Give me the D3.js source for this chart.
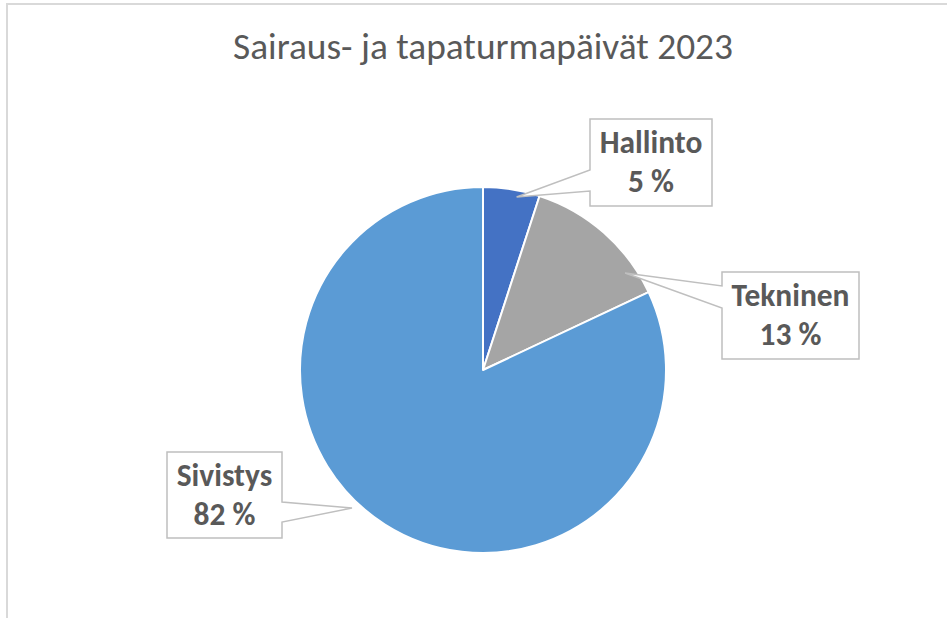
<!DOCTYPE html>
<html>
<head>
<meta charset="utf-8">
<script src="https://cdn.jsdelivr.net/npm/d3@7"></script>
<style>
  html, body { margin: 0; padding: 0; background: #fff; }
  svg { display: block; }
</style>
</head>
<body>
<svg id="chart" width="947" height="618"></svg>
<script>
const title = "Sairaus- ja tapaturmapäivät 2023";
const categories = ["Hallinto", "Tekninen", "Sivistys"];
const values = [5, 13, 82];
const colors = ["#4472C4", "#A5A5A5", "#5B9BD5"];

// callout boxes, placed by hand like Excel does
const callouts = {
  Hallinto: { x: 590, y: 119, w: 122, h: 87, side: "left", a0: 170, a1: 191, tipDeg: 11, tipR: 0.963 },
  Tekninen: { x: 722, y: 272, w: 137, h: 87, side: "left", a0: 286, a1: 308, tipDeg: 55.7, tipR: 0.94 },
  Sivistys: { x: 167, y: 452, w: 115, h: 86, side: "right", a0: 502, a1: 522, tipDeg: 223.5, tipR: 1.04 }
};

const cx = 483, cy = 370, R = 183;
const font = "Carlito, Calibri, 'Open Sans', sans-serif";

const svg = d3.select("#chart");

// pick a font size so a text gets the wanted width (no Calibri here)
function fitSize(str, weight, width) {
  const t = svg.append("text")
    .attr("font-family", font)
    .attr("font-weight", weight)
    .attr("font-size", 100)
    .text(str);
  const w = t.node().getComputedTextLength();
  t.remove();
  return (100 * width) / w;
}

const titleSize = fitSize(title, "normal", 500);
const labelSize = fitSize("Tekninen", "bold", 118);

// chart area border (runs off the right/bottom edge)
svg.append("rect")
  .attr("x", 7).attr("y", 4)
  .attr("width", 1200).attr("height", 1200)
  .attr("fill", "none")
  .attr("stroke", "#D9D9D9")
  .attr("stroke-width", 2);

svg.append("text")
  .attr("x", cx)
  .attr("y", 59)
  .attr("text-anchor", "middle")
  .attr("font-family", font)
  .attr("font-size", titleSize)
  .attr("fill", "#595959")
  .text(title);

const data = categories.map((c, i) => ({ name: c, value: values[i], color: colors[i] }));

const pie = d3.pie().sort(null).value((d) => d.value);
const arc = d3.arc().innerRadius(0).outerRadius(R);
const arcs = pie(data);

const g = svg.append("g").attr("transform", `translate(${cx},${cy})`);

g.selectAll("path")
  .data(arcs)
  .enter()
  .append("path")
  .attr("d", arc)
  .attr("fill", (d) => d.data.color)
  .attr("stroke", "#fff")
  .attr("stroke-width", 2)
  .attr("stroke-linejoin", "round");

function calloutPath(c) {
  const rad = (c.tipDeg * Math.PI) / 180;
  const tx = cx + Math.sin(rad) * R * c.tipR;
  const ty = cy - Math.cos(rad) * R * c.tipR;
  const x0 = c.x, x1 = c.x + c.w, y0 = c.y, y1 = c.y + c.h;
  if (c.side === "left") {
    return `M${x0},${y0}H${x1}V${y1}H${x0}V${c.a1}L${tx},${ty}L${x0},${c.a0}Z`;
  }
  return `M${x0},${y0}H${x1}V${c.a0}L${tx},${ty}L${x1},${c.a1}V${y1}H${x0}Z`;
}

const labels = svg.selectAll("g.label")
  .data(arcs)
  .enter()
  .append("g")
  .attr("class", "label");

labels.append("path")
  .attr("d", (d) => calloutPath(callouts[d.data.name]))
  .attr("fill", "#fff")
  .attr("stroke", "#BFBFBF")
  .attr("stroke-width", 1.5);

labels.each(function (d) {
  const c = callouts[d.data.name];
  const t = d3.select(this).append("text")
    .attr("text-anchor", "middle")
    .attr("font-family", font)
    .attr("font-weight", "bold")
    .attr("font-size", labelSize)
    .attr("fill", "#595959");
  t.append("tspan").attr("x", c.x + c.w / 2).attr("y", c.y + 34).text(d.data.name);
  t.append("tspan").attr("x", c.x + c.w / 2).attr("y", c.y + 73).text(`${d.data.value} %`);
});
</script>
</body>
</html>
